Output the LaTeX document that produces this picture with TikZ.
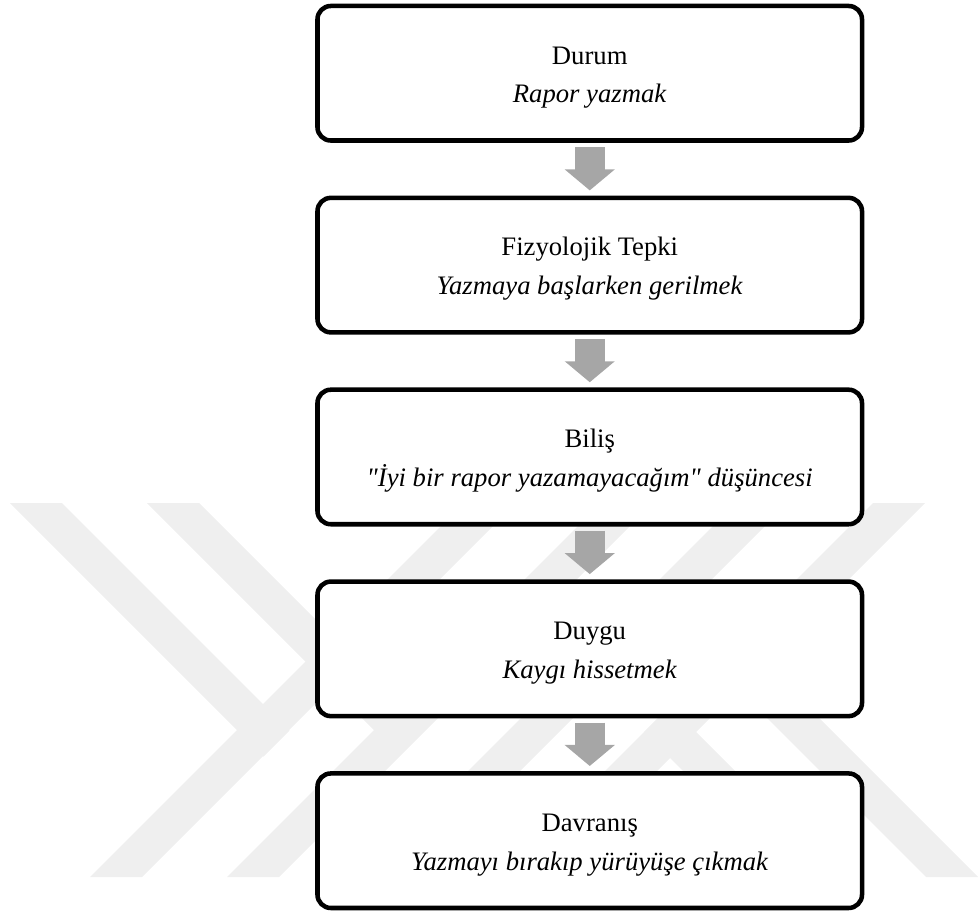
\documentclass[tikz,border=0pt]{standalone}
\usepackage{fontspec}
\setmainfont{Liberation Serif}[Ligatures=TeXOff]
\usetikzlibrary{positioning,arrows.meta}
\definecolor{arrowgray}{RGB}{166,166,166}
\definecolor{markgray}{RGB}{239,239,239}
\newcommand{\firstline}{\rule{0pt}{19.5pt}}
\tikzset{
  stage/.style={draw, line width=3.4pt, rounded corners=10pt, fill=white,
    minimum width=408.4pt, minimum height=100.9pt, outer sep=0pt,
    inner sep=0pt, align=center, font=\fontsize{20}{29}\selectfont},
  flow/.style={arrowgray, line width=22.5pt,
    -{Triangle[length=15.75pt,width=36.75pt]},
    shorten <=4.9pt, shorten >=5.6pt},
  wmark/.style={fill=markgray}
}
\begin{document}
\begin{tikzpicture}[x=0.75pt,y=-0.75pt]
  \useasboundingbox (0,0) rectangle (979,913);
  % watermark
  \fill[wmark] (90,877) -- (142,877) -- (516,503) -- (464,503) -- cycle;
  \fill[wmark] (227,877) -- (279,877) -- (653,503) -- (601,503) -- cycle;
  \fill[wmark] (362,877) -- (414,877) -- (788,503) -- (736,503) -- cycle;
  \fill[wmark] (499,877) -- (551,877) -- (925,503) -- (873,503) -- cycle;
  \fill[wmark] (10,503) -- (62,503) -- (289.5,730.5) -- (263.5,756.5) -- cycle;
  \fill[wmark] (147,503) -- (199,503) -- (425,729) -- (399,755) -- cycle;
  \fill[wmark] (670,706) -- (644,732) -- (789,877) -- (841,877) -- cycle;
  \fill[wmark] (696,595) -- (670,621) -- (926,877) -- (978,877) -- cycle;

  \node[stage] (durum) at (589.75,73.25) {\firstline Durum\\\textit{Rapor yazmak}};
  \node[stage, below=43pt of durum] (fizyo) {\firstline Fizyolojik Tepki\\\textit{Yazmaya başlarken gerilmek}};
  \node[stage, below=43pt of fizyo] (bilis) {\firstline Biliş\\\textit{"İyi bir rapor yazamayacağım" düşüncesi}};
  \node[stage, below=43pt of bilis] (duygu) {\firstline Duygu\\\textit{Kaygı hissetmek}};
  \node[stage, below=43pt of duygu] (davranis) {\firstline Davranış\\\textit{Yazmayı bırakıp yürüyüşe çıkmak}};

  \draw[flow] (durum) -- (fizyo);
  \draw[flow] (fizyo) -- (bilis);
  \draw[flow] (bilis) -- (duygu);
  \draw[flow] (duygu) -- (davranis);
\end{tikzpicture}
\end{document}
